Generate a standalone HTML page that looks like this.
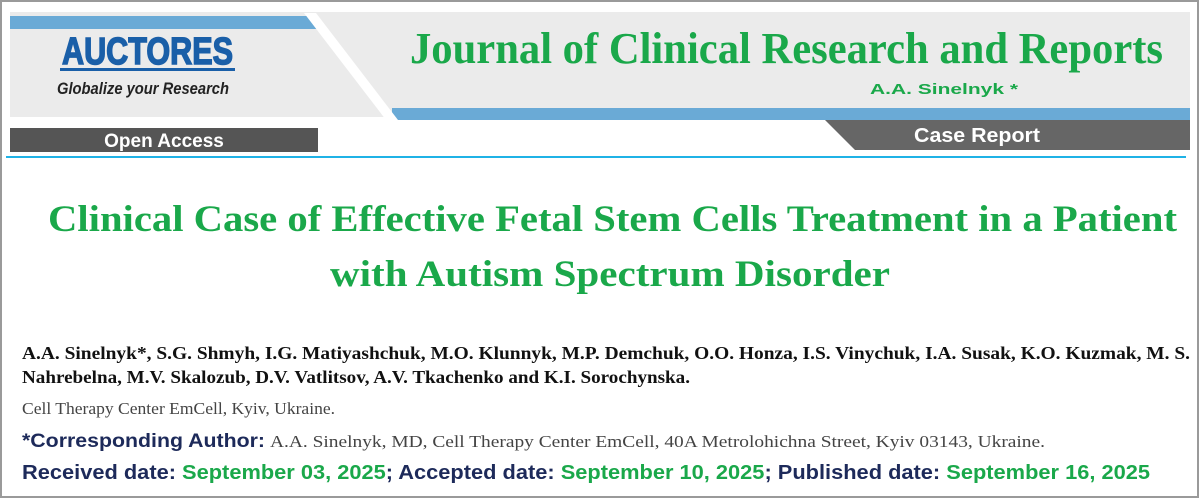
<!DOCTYPE html>
<html><head><meta charset="utf-8"><style>
html,body{margin:0;padding:0;background:#fff;}
svg{display:block;}
</style></head><body>
<svg width="1200" height="499" viewBox="0 0 1200 499">
<rect x="1" y="1" width="1197" height="496" fill="#fff" stroke="#9a9a9a" stroke-width="2"/>
<rect x="10" y="12" width="1180" height="105" fill="#ebebeb"/>
<rect x="10" y="16" width="308" height="13" fill="#6aaad6"/>
<rect x="392" y="108" width="798" height="12" fill="#6aaad6"/>
<polygon points="304,13 316,13 398,120 386,120" fill="#fff"/>
<rect x="10" y="128" width="308" height="24" fill="#555"/>
<polygon points="825,120 1190,120 1190,150 855,150" fill="#666"/>
<rect x="6" y="156" width="1180" height="2" fill="#1fb2e6"/>
<text x="62" y="64" textLength="171" lengthAdjust="spacingAndGlyphs" font-family="Liberation Sans, sans-serif" font-weight="bold" font-size="38" fill="#1a5fa8" stroke="#1a5fa8" stroke-width="1.5">AUCTORES</text>
<rect x="60" y="68" width="175" height="3" fill="#1a5fa8"/>
<text x="57" y="94" textLength="172" lengthAdjust="spacingAndGlyphs" font-family="Liberation Sans, sans-serif" font-weight="bold" font-style="italic" font-size="17" fill="#222">Globalize your Research</text>
<text x="410" y="63" textLength="753" lengthAdjust="spacingAndGlyphs" font-family="Liberation Serif, serif" font-weight="bold" font-size="44" fill="#1aa84a">Journal of Clinical Research and Reports</text>
<text x="870" y="94" textLength="148" lengthAdjust="spacingAndGlyphs" font-family="Liberation Sans, sans-serif" font-weight="bold" font-size="15" fill="#1aa84a">A.A. Sinelnyk *</text>
<text x="164" y="147" text-anchor="middle" font-family="Liberation Sans, sans-serif" font-weight="bold" font-size="19" fill="#fff">Open Access</text>
<text x="914" y="142" textLength="126" lengthAdjust="spacingAndGlyphs" font-family="Liberation Sans, sans-serif" font-weight="bold" font-size="20" fill="#fff">Case Report</text>
<text x="48" y="231" textLength="1129" lengthAdjust="spacingAndGlyphs" font-family="Liberation Serif, serif" font-weight="bold" font-size="37" fill="#1aa84a">Clinical Case of Effective Fetal Stem Cells Treatment in a Patient</text>
<text x="330" y="286" textLength="560" lengthAdjust="spacingAndGlyphs" font-family="Liberation Serif, serif" font-weight="bold" font-size="37" fill="#1aa84a">with Autism Spectrum Disorder</text>
<text x="22" y="359" textLength="1168" lengthAdjust="spacingAndGlyphs" font-family="Liberation Serif, serif" font-weight="bold" font-size="18" fill="#111">A.A. Sinelnyk*, S.G. Shmyh, I.G. Matiyashchuk, M.O. Klunnyk, M.P. Demchuk, O.O. Honza, I.S. Vinychuk, I.A. Susak, K.O. Kuzmak, M. S.</text>
<text x="22" y="383" textLength="668" lengthAdjust="spacingAndGlyphs" font-family="Liberation Serif, serif" font-weight="bold" font-size="18" fill="#111">Nahrebelna, M.V. Skalozub, D.V. Vatlitsov, A.V. Tkachenko and K.I. Sorochynska.</text>
<text x="22" y="414" textLength="313" lengthAdjust="spacingAndGlyphs" font-family="Liberation Serif, serif" font-size="17" fill="#444">Cell Therapy Center EmCell, Kyiv, Ukraine.</text>
<text x="22" y="447" textLength="243" lengthAdjust="spacingAndGlyphs" font-family="Liberation Sans, sans-serif" font-weight="bold" font-size="19" fill="#1d2a5a">*Corresponding Author:</text>
<text x="270" y="447" textLength="775" lengthAdjust="spacingAndGlyphs" font-family="Liberation Serif, serif" font-size="17" fill="#444">A.A. Sinelnyk, MD, Cell Therapy Center EmCell, 40A Metrolohichna Street, Kyiv 03143, Ukraine.</text>
<text x="22" y="479" textLength="1128" lengthAdjust="spacingAndGlyphs" font-family="Liberation Sans, sans-serif" font-weight="bold" font-size="20"><tspan fill="#1d2a5a">Received date: </tspan><tspan fill="#1aa84a">September 03, 2025</tspan><tspan fill="#1d2a5a">; Accepted date: </tspan><tspan fill="#1aa84a">September 10, 2025</tspan><tspan fill="#1d2a5a">; Published date: </tspan><tspan fill="#1aa84a">September 16, 2025</tspan></text>
</svg>
</body></html>
